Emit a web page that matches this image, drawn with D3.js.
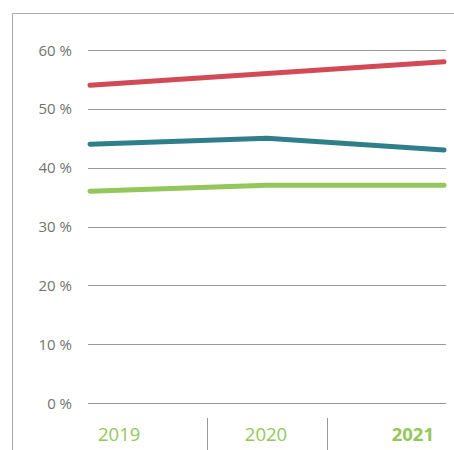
<html>
<head>
<script src="https://d3js.org/d3.v7.min.js"></script>
<style>
  body { margin: 0; background: #fff; }
  text { font-family: "Open Sans", "Noto Sans", sans-serif; }
</style>
</head>
<body>
<svg id="svg" width="454" height="450"></svg>
<script>
var years = ["2019", "2020", "2021"];
var redValues = [54, 56, 58];
var tealValues = [44, 45, 43];
var greenValues = [36, 37, 37];
var yTicks = [0, 10, 20, 30, 40, 50, 60];

var series = [
  {values: redValues, color: "#d24a55"},
  {values: tealValues, color: "#2f7f8b"},
  {values: greenValues, color: "#93c75b"}
];

var svg = d3.select("svg");

// frame: top and left rule
svg.append("path").attr("d", "M12.5 450V13.5H454")
  .attr("fill", "none").attr("stroke", "#aaa").attr("stroke-width", 1);

var y = d3.scaleLinear().domain([0, 60]).range([403, 50]);
var x = d3.scalePoint().domain(years).range([90, 444]);
var band = d3.scaleBand().domain(years).range([88, 446]);

// grid + tick labels
var grid = svg.append("g");
grid.selectAll("line").data(yTicks).enter().append("line")
  .attr("x1", 88).attr("x2", 446)
  .attr("y1", function(d){ return Math.round(y(d)) + 0.5; })
  .attr("y2", function(d){ return Math.round(y(d)) + 0.5; })
  .attr("stroke", "#999").attr("stroke-width", 1.2);
grid.selectAll("text").data(yTicks).enter().append("text")
  .attr("x", 72).attr("y", function(d){ return y(d) + 5.5; })
  .attr("text-anchor", "end").attr("font-size", 15).attr("fill", "#727272")
  .text(function(d){ return d + " %"; });

// lines
var line = d3.line()
  .x(function(d, i){ return x(years[i]); })
  .y(function(d){ return y(d); });
svg.selectAll(".series").data(series).enter().append("path")
  .attr("class", "series")
  .attr("d", function(s){ return line(s.values); })
  .attr("fill", "none").attr("stroke", function(s){ return s.color; })
  .attr("stroke-width", 5).attr("stroke-linecap", "round").attr("stroke-linejoin", "round");

// year separators
svg.selectAll(".sep").data(years.slice(1)).enter().append("line")
  .attr("class", "sep")
  .attr("x1", function(d){ return Math.round(band(d)) + 0.5; })
  .attr("x2", function(d){ return Math.round(band(d)) + 0.5; })
  .attr("y1", 418).attr("y2", 450)
  .attr("stroke", "#999").attr("stroke-width", 1);

// year labels
svg.selectAll(".year").data(years).enter().append("text")
  .attr("class", "year")
  .attr("x", function(d, i){
    if (i === 0) return band(d) + 10;
    if (i === years.length - 1) return band(d) + band.bandwidth() - 12;
    return band(d) + band.bandwidth() / 2 - 1;
  })
  .attr("y", 441)
  .attr("text-anchor", function(d, i){ return i === 0 ? "start" : (i === years.length - 1 ? "end" : "middle"); })
  .attr("font-size", 18.5)
  .attr("font-weight", function(d, i){ return i === years.length - 1 ? "bold" : "normal"; })
  .attr("fill", "#93c75b")
  .text(function(d){ return d; });
</script>
</body>
</html>
